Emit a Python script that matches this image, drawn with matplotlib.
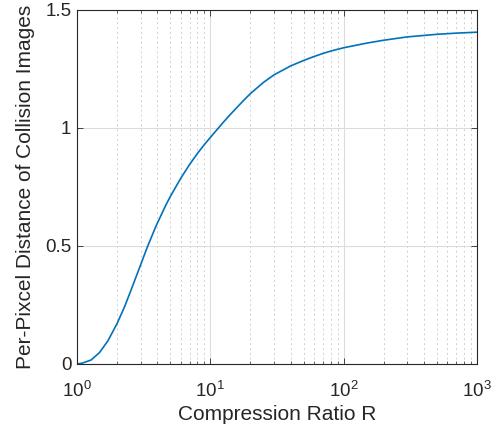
import matplotlib
matplotlib.use("Agg")
import matplotlib.pyplot as plt
from matplotlib.ticker import LogLocator, NullFormatter

plt.rcParams['font.family'] = ['Liberation Sans', 'DejaVu Sans']
plt.rcParams['mathtext.fontset'] = 'custom'
plt.rcParams['mathtext.rm'] = 'Liberation Sans'
plt.rcParams['mathtext.it'] = 'Liberation Sans:italic'

# values
ratio = [1.0, 1.1, 1.276, 1.473, 1.705, 2.0, 2.275, 2.53, 3.0, 3.36, 3.93, 4.61,
         5.0, 6.0, 7.0, 8.0, 9.0, 10.0, 11.3, 12.5, 14.0, 16.0, 18.0, 20.0, 25.0, 30.0,
         40.0, 50.0, 60.0, 70.0, 80.0, 100.0, 150.0, 200.0, 300.0, 500.0, 700.0, 1000.0]
distance = [0.0, 0.004, 0.017, 0.048, 0.098, 0.172, 0.243, 0.310, 0.420, 0.494, 0.587, 0.670,
            0.709, 0.787, 0.846, 0.892, 0.929, 0.960, 0.995, 1.024, 1.055, 1.090, 1.120, 1.146,
            1.193, 1.225, 1.263, 1.286, 1.303, 1.316, 1.326, 1.340, 1.360, 1.372, 1.386, 1.397,
            1.402, 1.406]
yticks = [0, 0.5, 1, 1.5]
ytick_labels = ['0', '0.5', '1', '1.5']
xlabel = 'Compression Ratio R'
ylabel = 'Per-Pixcel Distance of Collision Images'

fig = plt.figure(figsize=(4.95, 4.32), dpi=100)
ax = fig.add_axes([77/495, 1-364/432, 400/495, 354/432])
ax.semilogx(ratio, distance, color='#0072BD', linewidth=1.2)
ax.set_xlim(1, 1000)
ax.set_ylim(0, 1.5)
ax.set_yticks(yticks)
ax.set_yticklabels(ytick_labels)
ax.xaxis.set_major_locator(LogLocator(base=10, numticks=10))
ax.xaxis.set_minor_locator(LogLocator(base=10, subs=range(2, 10), numticks=20))
ax.xaxis.set_minor_formatter(NullFormatter())

ax.grid(True, which='major', color='#dcdcdc', linewidth=0.8, linestyle='-')
ax.grid(True, which='minor', axis='x', color='#d0d0d0', linewidth=0.7, linestyle=(0, (2, 3)))
ax.set_axisbelow(True)

for s in ax.spines.values():
    s.set_color('#262626')
    s.set_linewidth(0.8)
ax.tick_params(which='both', direction='in', top=True, right=True, colors='#262626',
               labelsize=13.5, labelcolor='#262626')
ax.tick_params(which='major', length=4, width=0.6)
ax.tick_params(which='minor', length=2.5, width=0.5)
ax.tick_params(axis='x', pad=12)
ax.tick_params(axis='y', pad=4)

ax.set_xlabel(xlabel, fontsize=15, color='#262626', labelpad=3)
ax.set_ylabel(ylabel, fontsize=15, color='#262626', labelpad=7)

fig.savefig('out.png', dpi=100)
